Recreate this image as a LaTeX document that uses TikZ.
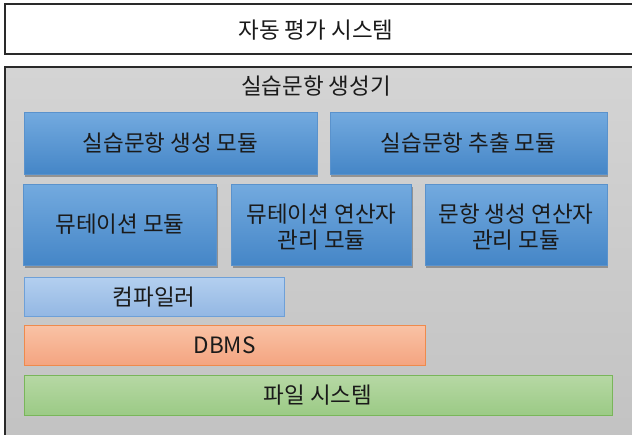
\documentclass[tikz,border=0pt]{standalone}
\usepackage{fontspec}
\setmainfont{Noto Sans CJK KR}
\usetikzlibrary{shadows}
\definecolor{txt}{HTML}{1A1A1A}
\definecolor{frameline}{HTML}{2A2A2A}
\definecolor{graytop}{HTML}{D4D4D4}
\definecolor{graybot}{HTML}{C2C2C2}
\definecolor{bluetop}{HTML}{73AADF}
\definecolor{bluebot}{HTML}{4586C7}
\definecolor{blueline}{HTML}{5A92CC}
\definecolor{ltbluetop}{HTML}{B3CFEF}
\definecolor{ltbluebot}{HTML}{93B7E3}
\definecolor{ltblueline}{HTML}{6EA0D8}
\definecolor{orgtop}{HTML}{F9C2A5}
\definecolor{orgbot}{HTML}{F4A480}
\definecolor{orgline}{HTML}{EF8A4C}
\definecolor{grntop}{HTML}{B6D8A4}
\definecolor{grnbot}{HTML}{9BCA85}
\definecolor{grnline}{HTML}{79B65A}
\tikzset{
  lbl/.style={text=txt, font=\fontsize{22.5}{26}\selectfont, align=center, inner sep=0pt, outer sep=0pt},
  bluebox/.style={lbl, draw=blueline, line width=0.6pt, top color=bluetop, bottom color=bluebot,
     drop shadow={shadow xshift=1pt, shadow yshift=-2.5pt, opacity=0.45, fill=black!70}},
  cmpbox/.style={lbl, draw=ltblueline, line width=0.8pt, top color=ltbluetop, bottom color=ltbluebot},
  dbbox/.style={lbl, draw=orgline, line width=0.8pt, top color=orgtop, bottom color=orgbot},
  fsbox/.style={lbl, draw=grnline, line width=0.8pt, top color=grntop, bottom color=grnbot},
}
\begin{document}
\begin{tikzpicture}[x=1pt,y=-1pt]
\useasboundingbox (0,0) rectangle (632,434);
\clip (0,0) rectangle (632,434);
% top box
\draw[frameline, line width=1.2pt, fill=white] (5,4) rectangle (645,54);
\node[lbl] (sys) at (316,30) {자동 평가 시스템};
% gray frame
\draw[frameline, line width=1.2pt, top color=graytop, bottom color=graybot] (5,67) rectangle (645,450);
\node[lbl] (gen) at (316,86) {실습문항 생성기};
% row 1
\node[bluebox, minimum width=293pt, minimum height=62pt] (m1) at (170.5,143) {실습문항 생성 모듈};
\node[bluebox, minimum width=277pt, minimum height=62pt] (m2) at (468.5,143) {실습문항 추출 모듈};
% row 2
\node[bluebox, minimum width=193pt, minimum height=81pt] (m3) at (120,224.5) {뮤테이션 모듈};
\node[bluebox, minimum width=180pt, minimum height=81pt] (m4) at (321.5,224.5) {};
\node[lbl] (m4t) at ([yshift=-2.5pt]m4.center) {뮤테이션 연산자\\관리 모듈};
\node[bluebox, minimum width=182pt, minimum height=81pt] (m5) at (516,224.5) {};
\node[lbl] (m5t) at ([yshift=-2.5pt]m5.center) {문항 생성 연산자\\관리 모듈};
% lower layers
\node[cmpbox, minimum width=260pt, minimum height=39pt] (cmp) at (154,297) {컴파일러};
\node[dbbox, minimum width=401pt, minimum height=40pt] (db) at (224.5,345.5) {DBMS};
\node[fsbox, minimum width=588pt, minimum height=40pt] (fs) at (318,395.5) {파일 시스템};
\end{tikzpicture}
\end{document}
